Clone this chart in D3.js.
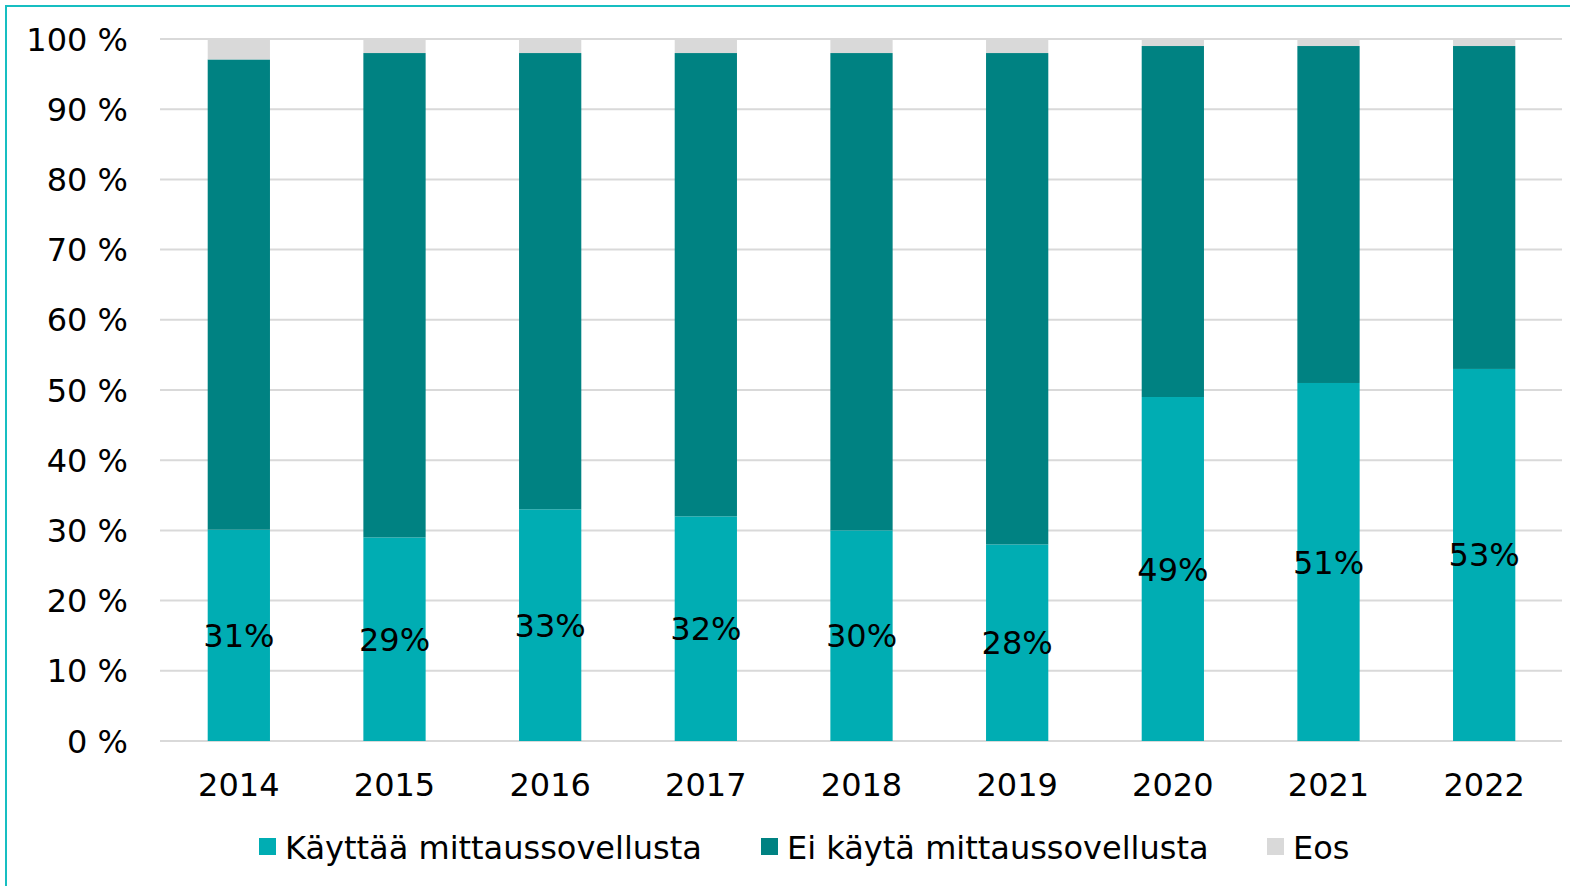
<!DOCTYPE html>
<html>
<head>
<meta charset="utf-8">
<script src="https://d3js.org/d3.v7.min.js"></script>
<style>
  body { margin: 0; background: #fff; }
  text { font-family: "DejaVu Sans", Verdana, sans-serif; fill: #000; }
  .grid line { stroke: #d9d9d9; stroke-width: 2px; }
</style>
</head>
<body>
<script>
// values (each year normalised to 100 %)
var years = ["2014", "2015", "2016", "2017", "2018", "2019", "2020", "2021", "2022"];
var kayttaa = [31, 29, 33, 32, 30, 28, 49, 51, 53];
var eiKayta = [69, 69, 65, 66, 68, 70, 50, 48, 46];
var eos = [3, 2, 2, 2, 2, 2, 1, 1, 1];
var yTicks = [0, 0.1, 0.2, 0.3, 0.4, 0.5, 0.6, 0.7, 0.8, 0.9, 1];

var seriesNames = ["Käyttää mittaussovellusta", "Ei käytä mittaussovellusta", "Eos"];
var keys = ["k", "e", "o"];
var colors = ["#00adb3", "#008282", "#d9d9d9"];

var width = 1570, height = 886;

var rows = years.map(function (y, i) {
    return { year: y, k: kayttaa[i], e: eiKayta[i], o: eos[i] };
});

var stack = d3.stack().keys(keys).offset(d3.stackOffsetExpand);
var layers = stack(rows);

var svg = d3.select("body").append("svg")
    .attr("width", width)
    .attr("height", height);

// frame
svg.append("path")
    .attr("d", "M6,886 V6 H1570")
    .attr("fill", "none")
    .attr("stroke", "#17bec1")
    .attr("stroke-width", 2);

var x = d3.scaleBand()
    .domain(years)
    .range([161, 1562])
    .paddingInner(0.6)
    .paddingOuter(0.3);

var y = d3.scaleLinear()
    .domain([0, 1])
    .range([741, 39]);

// gridlines
svg.append("g")
    .attr("class", "grid")
    .selectAll("line")
    .data(yTicks)
    .enter().append("line")
    .attr("x1", 160)
    .attr("x2", 1562)
    .attr("y1", function (d) { return y(d); })
    .attr("y2", function (d) { return y(d); });

// y tick labels
svg.append("g")
    .selectAll("text")
    .data(yTicks)
    .enter().append("text")
    .attr("x", 128)
    .attr("y", function (d) { return y(d); })
    .attr("dy", "0.36em")
    .attr("text-anchor", "end")
    .style("font-size", "32px")
    .text(function (d) { return Math.round(d * 100) + " %"; });

// bars
svg.append("g")
    .selectAll("g")
    .data(layers)
    .enter().append("g")
    .attr("fill", function (d, i) { return colors[i]; })
    .selectAll("rect")
    .data(function (d) { return d; })
    .enter().append("rect")
    .attr("x", function (d) { return x(d.data.year); })
    .attr("width", x.bandwidth())
    .attr("y", function (d) { return y(d[1]); })
    .attr("height", function (d) { return y(d[0]) - y(d[1]); });

// data labels on the first series
svg.append("g")
    .selectAll("text")
    .data(layers[0])
    .enter().append("text")
    .attr("x", function (d) { return x(d.data.year) + x.bandwidth() / 2; })
    .attr("y", function (d) { return (y(d[0]) + y(d[1])) / 2; })
    .attr("dy", "0.36em")
    .attr("text-anchor", "middle")
    .style("font-size", "32px")
    .text(function (d) { return d.data.k + "%"; });

// x labels
svg.append("g")
    .selectAll("text")
    .data(years)
    .enter().append("text")
    .attr("x", function (d) { return x(d) + x.bandwidth() / 2; })
    .attr("y", 784)
    .attr("dy", "0.36em")
    .attr("text-anchor", "middle")
    .style("font-size", "32px")
    .text(function (d) { return d; });

// legend
var legendX = [259, 761, 1267];
var lg = svg.append("g")
    .selectAll("g")
    .data(seriesNames)
    .enter().append("g")
    .attr("transform", function (d, i) { return "translate(" + legendX[i] + ",838)"; });

lg.append("rect")
    .attr("width", 17)
    .attr("height", 17)
    .attr("fill", function (d, i) { return colors[i]; });

lg.append("text")
    .attr("x", 26)
    .attr("y", 9)
    .attr("dy", "0.36em")
    .style("font-size", "32px")
    .text(function (d) { return d; });
</script>
</body>
</html>
